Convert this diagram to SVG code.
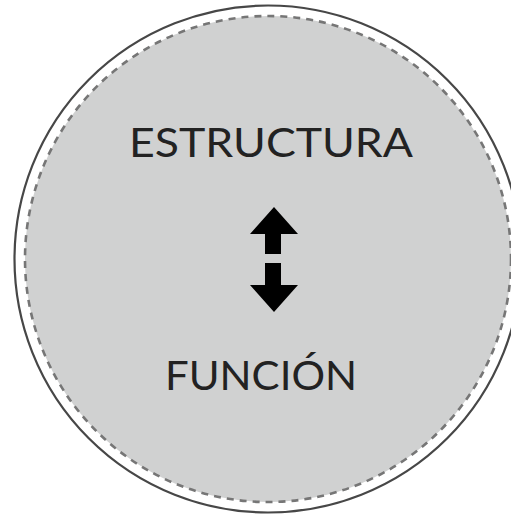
<svg xmlns="http://www.w3.org/2000/svg" width="511" height="515" viewBox="0 0 511 515">
  <style>
    .lbl { font-family: "Lato", "Open Sans", "Liberation Sans", sans-serif; font-size: 40px; fill: #222; text-anchor: middle; font-weight: 400; }
    .arr { fill: #000; }
  </style>
  <rect width="511" height="515" fill="#fff"/>
  <g id="circle">
    <circle cx="268" cy="259" r="253.5" fill="#fff" stroke="#474747" stroke-width="2.2"/>
    <circle cx="268" cy="259" r="243" fill="#d0d1d1" stroke="#767676" stroke-width="2.6" stroke-dasharray="7 6"/>
  </g>
  <g id="estructura">
    <text class="lbl" x="271" y="157" textLength="284" lengthAdjust="spacingAndGlyphs">ESTRUCTURA</text>
  </g>
  <g id="funcion">
    <text class="lbl" x="261" y="390" textLength="192" lengthAdjust="spacingAndGlyphs">FUNCIÓN</text>
  </g>
  <g id="connectors">
    <polygon class="arr" points="274,207 298,234 281,234 281,254 265,254 265,234 250,234"/>
    <polygon class="arr" points="265,263 281,263 281,285 298,285 274,312 250,285 265,285"/>
  </g>
</svg>
